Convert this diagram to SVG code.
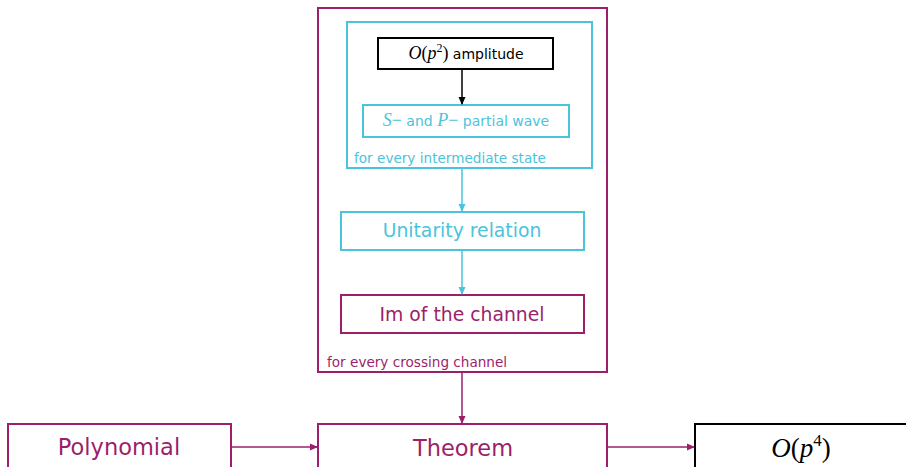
<svg xmlns="http://www.w3.org/2000/svg" width="906" height="467" viewBox="0 0 906 467">
<defs>
<style>
.pb{fill:none;stroke:#9B1F6A;stroke-width:2}
.cb{fill:none;stroke:#4BC3DC;stroke-width:2}
.kb{fill:none;stroke:#000;stroke-width:2}
.t{font-family:"DejaVu Sans","Liberation Sans",sans-serif;text-anchor:middle}
.m{font-family:"Liberation Serif",serif;font-style:italic}
.p{fill:#9B1F6A}
.c{fill:#4BC3DC}
.k{fill:#000}
</style>
<marker id="ap" markerWidth="8" markerHeight="8" refX="7" refY="4" orient="auto" markerUnits="userSpaceOnUse"><path d="M0,0.5 L8,4 L0,7.5 Z" fill="#9B1F6A"/></marker>
<marker id="ac" markerWidth="8" markerHeight="8" refX="7" refY="4" orient="auto" markerUnits="userSpaceOnUse"><path d="M0,0.5 L8,4 L0,7.5 Z" fill="#4BC3DC"/></marker>
<marker id="ak" markerWidth="8" markerHeight="8" refX="7" refY="4" orient="auto" markerUnits="userSpaceOnUse"><path d="M0,0.5 L8,4 L0,7.5 Z" fill="#000"/></marker>
</defs>
<g id="crossing">
<rect class="pb" x="318" y="8" width="289" height="364"/>
<text x="327" y="367" class="t p" style="text-anchor:start;font-size:13.6px">for every crossing channel</text>
</g>
<g id="intermediate">
<rect class="cb" x="347" y="22" width="245" height="146"/>
<text x="354" y="163" class="t c" style="text-anchor:start;font-size:13.6px">for every intermediate state</text>
</g>
<g id="amplitude">
<rect class="kb" x="378" y="38" width="175" height="31"/>
<text x="466" y="59" class="t k" style="font-size:14px"><tspan class="m" font-size="18">O</tspan><tspan font-family="Liberation Serif" font-size="18">(</tspan><tspan class="m" font-size="18">p</tspan><tspan font-family="Liberation Serif" font-size="12" dy="-7">2</tspan><tspan font-family="Liberation Serif" font-size="18" dy="7">)</tspan> amplitude</text>
</g>
<g id="partial">
<rect class="cb" x="363" y="105" width="206" height="32"/>
<text x="466" y="126" class="t c" style="font-size:14px"><tspan class="m" font-size="18">S</tspan><tspan font-family="Liberation Serif" font-size="18">−</tspan> and <tspan class="m" font-size="18">P</tspan><tspan font-family="Liberation Serif" font-size="18">−</tspan> partial wave</text>
</g>
<g id="unitarity">
<rect class="cb" x="341" y="212" width="243" height="38"/>
<text x="462" y="237" class="t c" style="font-size:18.8px">Unitarity relation</text>
</g>
<g id="im">
<rect class="pb" x="341" y="295" width="243" height="38"/>
<text x="462" y="321" class="t p" style="font-size:18.8px">Im of the channel</text>
</g>
<g id="polynomial">
<rect class="pb" x="8" y="424" width="223" height="60"/>
<text x="119" y="455" class="t p" style="font-size:22.5px">Polynomial</text>
</g>
<g id="theorem">
<rect class="pb" x="318" y="424" width="289" height="60"/>
<text x="463" y="456" class="t p" style="font-size:22.5px">Theorem</text>
</g>
<g id="op4">
<rect class="kb" x="695" y="424" width="230" height="60"/>
<text x="801" y="457" class="k" style="font-family:'Liberation Serif',serif;font-size:27px;text-anchor:middle"><tspan font-style="italic">O</tspan>(<tspan font-style="italic">p</tspan><tspan font-size="17" dy="-11">4</tspan><tspan dy="11">)</tspan></text>
</g>
<g id="connectors">
<line x1="462" y1="69" x2="462" y2="104" stroke="#000" stroke-width="1.5" marker-end="url(#ak)"/>
<line x1="462" y1="168" x2="462" y2="211" stroke="#4BC3DC" stroke-width="1.5" marker-end="url(#ac)"/>
<line x1="462" y1="250" x2="462" y2="294" stroke="#4BC3DC" stroke-width="1.5" marker-end="url(#ac)"/>
<line x1="462" y1="372" x2="462" y2="423" stroke="#9B1F6A" stroke-width="1.5" marker-end="url(#ap)"/>
<line x1="231" y1="447" x2="317" y2="447" stroke="#9B1F6A" stroke-width="1.5" marker-end="url(#ap)"/>
<line x1="607" y1="447" x2="694" y2="447" stroke="#9B1F6A" stroke-width="1.5" marker-end="url(#ap)"/>
</g>
</svg>
